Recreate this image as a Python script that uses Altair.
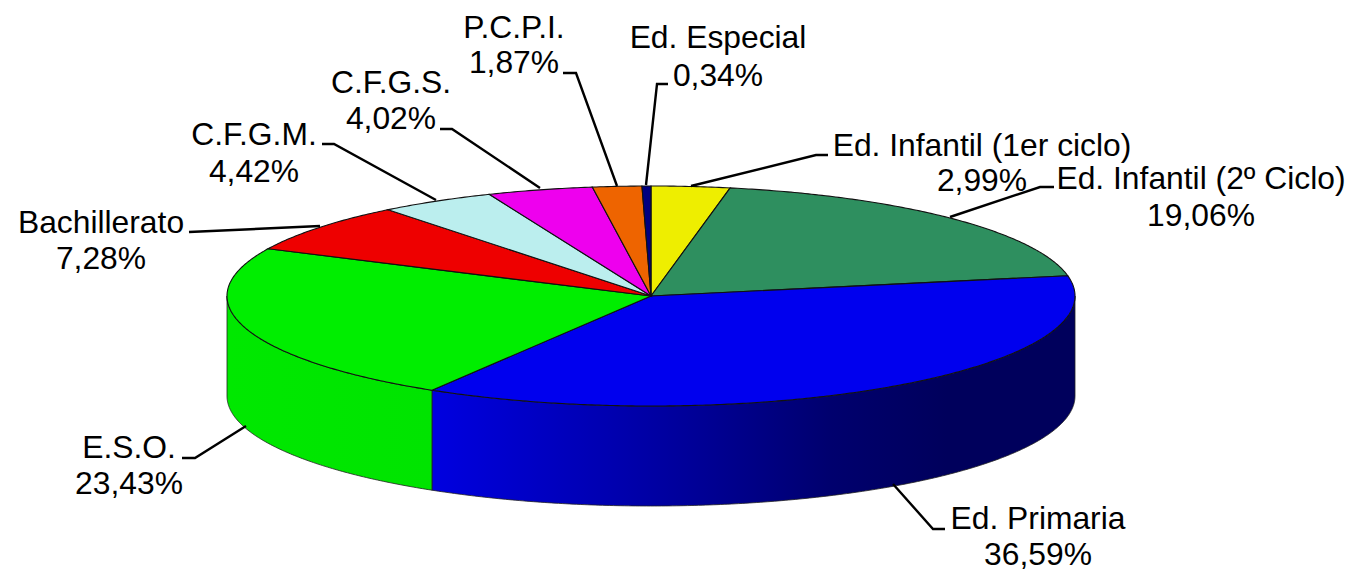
import math
import altair as alt

# Chart values
names = ["Ed. Infantil (1er ciclo)", "Ed. Infantil (2º Ciclo)", "Ed. Primaria", "E.S.O.", "Bachillerato",
         "C.F.G.M.", "C.F.G.S.", "P.C.P.I.", "Ed. Especial"]
shares = [2.99, 19.06, 36.59, 23.43, 7.28, 4.42, 4.02, 1.87, 0.34]
colors = ["#EEEE00", "#2E8F5F", "#0000EE", "#00EE00", "#EE0000", "#BBEEEE", "#EE00EE", "#EE6400", "#000080"]

# Label placement (reference pixels): centre x, name-line y, value-line y
label_x = [982, 1201, 1038, 129, 101, 254, 391, 514, 718]
label_y1 = [146, 179, 519, 448, 223, 135, 83, 28, 38]
label_y2 = [181, 216, 555, 484, 259, 172, 119, 63, 76]

# Leader lines (reference pixels): label end, elbow, pie end
leader_x = [[828, 816, 691], [1054, 1040, 950], [945, 933, 893], [182, 195, 246], [189, 189, 320],
            [322, 334, 436], [440, 452, 540], [563, 576, 617], [668, 657, 646]]
leader_y = [[155, 155, 186], [187, 187, 217], [529, 529, 484], [458, 458, 426], [232, 232, 226],
            [144, 144, 200], [129, 129, 188], [73, 73, 186], [84, 84, 185]]

# Pie geometry (reference pixels)
CX, CY, RX, RY, DEPTH, OFF = 651, 296, 424, 110, 100, 8
W, H = 1338, 566


def pt(deg, dy=0):
    a = math.radians(deg)
    return [CX + RX * math.sin(a) - OFF, CY - RY * math.cos(a) + dy - OFF]


def arc(a0, a1, dy=0):
    n = max(2, int(abs(a1 - a0) * 2))
    return [pt(a0 + (a1 - a0) * i / n, dy) for i in range(n + 1)]


def feature(name, color, ring):
    return {"type": "Feature", "properties": {"name": name, "color": color},
            "geometry": {"type": "Polygon", "coordinates": [ring + [ring[0]]]}}


bounds = [0.0]
for s in shares:
    bounds.append(bounds[-1] + s * 3.6)

tops = []
for nm, col, a0, a1 in zip(names, colors, bounds, bounds[1:]):
    tops.append(feature(nm, col, [[CX - OFF, CY - OFF]] + arc(a0, a1)))

blue_wall = feature("wall-blue", "", arc(90, bounds[3]) + arc(bounds[3], 90, DEPTH))
green_wall = feature("wall-green", "", arc(bounds[3], 270) + arc(270, bounds[3], DEPTH))

proj = alt.Projection(type="identity", scale=1, translate=[0, 0])

blue_grad = alt.Gradient(gradient="linear", x1=0, x2=1, y1=0, y2=0, stops=[
    alt.GradientStop(offset=0.0, color="#0000E0"),
    alt.GradientStop(offset=0.3, color="#0000AC"),
    alt.GradientStop(offset=0.62, color="#00006E"),
    alt.GradientStop(offset=0.8, color="#00005C"),
    alt.GradientStop(offset=1.0, color="#00005C"),
])
green_grad = alt.Gradient(gradient="linear", x1=0, x2=1, y1=0, y2=0, stops=[
    alt.GradientStop(offset=0.0, color="#00E800"),
    alt.GradientStop(offset=1.0, color="#00E400"),
])

wall_b = alt.Chart(alt.Data(values=[blue_wall])).mark_geoshape(
    fill=blue_grad, stroke="#222222", strokeWidth=0.8).project(**proj.to_dict())
wall_g = alt.Chart(alt.Data(values=[green_wall])).mark_geoshape(
    fill=green_grad, stroke="#222222", strokeWidth=0.8).project(**proj.to_dict())
top = alt.Chart(alt.Data(values=tops)).mark_geoshape(stroke="#111111", strokeWidth=1.1).encode(
    fill=alt.Fill("properties.color:N", scale=None))

xs = alt.Scale(domain=[0, W], range=[0, W])
ys = alt.Scale(domain=[0, H], range=[0, H])

leader_rows = []
for nm, lx, ly in zip(names, leader_x, leader_y):
    for i, (a, b) in enumerate(zip(lx, ly)):
        leader_rows.append({"name": nm, "i": i, "x": a - OFF, "y": b - OFF})
leaders = alt.Chart(alt.Data(values=leader_rows)).mark_line(color="black", strokeWidth=2.4).encode(
    x=alt.X("x:Q", scale=xs, axis=None),
    y=alt.Y("y:Q", scale=ys, axis=None),
    detail="name:N",
    order="i:Q",
)

text_rows = []
for nm, s, x, y1, y2 in zip(names, shares, label_x, label_y1, label_y2):
    text_rows.append({"t": nm, "x": x - OFF, "y": y1 - OFF})
    text_rows.append({"t": f"{s:.2f}%".replace(".", ","), "x": x - OFF, "y": y2 - OFF})
labels = alt.Chart(alt.Data(values=text_rows)).mark_text(
    font="Liberation Sans", fontSize=31.8, color="black", align="center", baseline="middle"
).encode(
    x=alt.X("x:Q", scale=xs, axis=None),
    y=alt.Y("y:Q", scale=ys, axis=None),
    text="t:N",
)

chart = alt.layer(wall_b, wall_g, top.project(**proj.to_dict()), leaders, labels).properties(
    width=W, height=H, padding=0, autosize=alt.AutoSizeParams(type="none"),
    background="white",
).configure_view(stroke=None)

chart.save("out.html", embed_options={"renderer": "svg", "actions": False})
